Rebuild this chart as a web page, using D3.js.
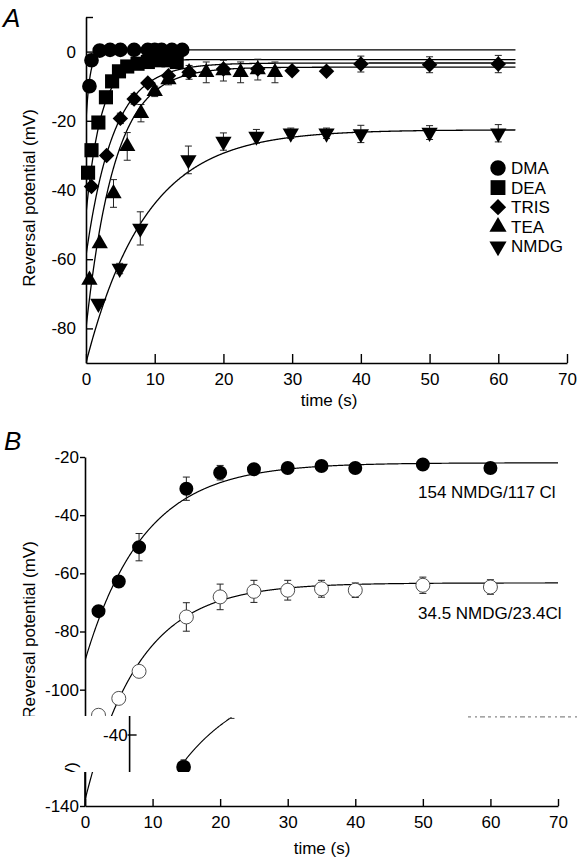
<!DOCTYPE html>
<html><head><meta charset="utf-8">
<script src="https://cdn.jsdelivr.net/npm/d3@7"></script>
<style>
html,body{margin:0;padding:0;background:#fff;}
svg{display:block;font-family:"Liberation Sans", Arial, Helvetica, sans-serif;}
</style></head><body>
<svg id="chart" width="580" height="863"></svg>
<script>
// ---------- Panel A data ----------
const xTicksA = [0,10,20,30,40,50,60,70];
const yTicksA = [-80,-60,-40,-20,0,10];
const yTickLabelsA = ["-80","-60","-40","-20","0",""];
const legendNamesA = ["DMA","DEA","TRIS","TEA","NMDG"];

const dmaTime  = [0.5,0.8,2,3.5,5,7,9,10,11,12.5,14];
const dmaValue = [-10,-2.5,0.3,0.5,0.5,0.5,0.5,0.5,0.5,0.5,0.5];
const dmaErr   = [0,0,0,0,0,0,0,0,0,0,0];

const deaTime  = [0.3,0.8,1.8,2.9,3.8,4.8,6,7.5,9,10.5,12,13.2];
const deaValue = [-35,-28.5,-20.5,-13.2,-8.6,-5.7,-4.3,-3.5,-3,-2.5,-2.5,-3];
const deaErr   = [0,0,0,0,0,0,0,1,1,1,1,1];

const trisTime  = [0.8,3,5,7,9,12,15,20,25,30,35,40,50,60];
const trisValue = [-39,-30,-19.3,-13.7,-9.1,-7,-6,-5,-5,-5.5,-5.7,-3.6,-3.8,-3.6];
const trisErr   = [0,0,1.5,1.5,1,1,1,1,1,1,0.5,2.3,2.3,2.5];

const teaTime  = [0.5,2,4,6,8,10,12,15,17.5,20,22.5,25,27.5];
const teaValue = [-66,-55.5,-41,-27.4,-17.8,-11.5,-8.1,-6,-6,-5.5,-6,-5.2,-6];
const teaErr   = [0,0,4,4,2.5,1.5,1.5,2,3,3,3,3,3];

const nmdgTime  = [1.8,4.9,7.9,14.9,20,24.8,29.8,35,40,50,60];
const nmdgValue = [-72.8,-62.7,-51.1,-31.3,-26,-24.5,-23.6,-23.6,-23.8,-23.4,-23.6];
const nmdgErr   = [0.5,1.5,4.8,4,2.5,2,1.5,1.5,2.5,2,2.5];

// exponential fit parameters (start, plateau, tau) for panel A
const fitStartA   = [-20,-47,-59,-80,-90];
const fitPlateauA = [0.5,-2.3,-3.3,-4.5,-22.6];
const fitTauA     = [0.6,2.2,4,4.2,8.7];
const fitEndA     = 62.5;

// ---------- Panel B data ----------
const xTicksB = [0,10,20,30,40,50,60,70];
const yTicksB = [-140,-120,-100,-80,-60,-40,-20];
const seriesNamesB = ["154 NMDG/117 Cl","34.5 NMDG/23.4Cl"];
const highTime  = [2,5,8,15,20,25,30,35,40,50,60];
const highValue = [-73,-62.8,-51,-30.9,-25.4,-24.2,-23.8,-23.1,-23.8,-22.6,-23.8];
const highErr   = [1,1.5,4.7,4,2.5,1,1.5,1,1,1,1.5];
const lowTime   = [2,5,8,15,20,25,30,35,40,50,60];
const lowValue  = [-108.8,-103,-93.7,-75,-68.1,-66.2,-65.8,-65.3,-65.8,-64.1,-64.7];
const lowErr    = [1,1,1.5,4.9,4.4,3.8,3.4,2.9,2.5,2.8,2.5];
const fitStartB   = [-90,-138];
const fitPlateauB = [-22,-63.3];
const fitTauB     = [8.7,8];
const fitEndB     = 70;

// ---------- scan artifact fragment (pasted strip) ----------
const fragTicks = [-40];
const fragTime = [15], fragValue = [-50], fragErr = [1.5];
const fragFit = {start:-81, plateau:-20, tau:19.7, t0:15, t1:28.3};

// ================= drawing =================
const svg = d3.select("#chart");
const FONT = 17;
const fmt = d => String(d);
const sym = {
  circle: d3.symbol().type(d3.symbolCircle).size(170)(),
  square: d3.symbol().type(d3.symbolSquare).size(200)(),
  diamond: d3.symbol().type(d3.symbolSquare).size(120)(),
  tri: d3.symbol().type(d3.symbolTriangle).size(115)()
};
const symRot = {circle:0, square:0, diamond:45, tri:0, tridown:180};
function symPath(k){ return k==="tridown" ? sym.tri : sym[k]; }

function expFit(start, plateau, tau, t0, t1, step){
  const pts=[]; for(let t=t0;t<=t1+1e-9;t+=step) pts.push([t, plateau+(start-plateau)*Math.exp(-t/tau)]);
  return pts;
}
function styleAxis(g){
  g.attr("font-size",FONT).attr("font-family",'"Liberation Sans", Arial, sans-serif');
  g.selectAll("path.domain").attr("stroke","#000").attr("stroke-width",1.6);
  g.selectAll(".tick line").attr("stroke","#000").attr("stroke-width",1.4);
  g.selectAll(".tick text").attr("fill","#000");
}
function drawSeries(g, x, y, times, vals, errs, kind, fill, scale){
  const d = times.map((t,i)=>({t, v:vals[i], e:errs[i]}));
  const eb = g.append("g").attr("stroke","#222").attr("stroke-width",1);
  d.filter(p=>p.e>0).forEach(p=>{
    eb.append("line").attr("x1",x(p.t)).attr("x2",x(p.t)).attr("y1",y(p.v-p.e)).attr("y2",y(p.v+p.e));
    [p.v-p.e,p.v+p.e].forEach(vv=>eb.append("line").attr("x1",x(p.t)-3.5).attr("x2",x(p.t)+3.5).attr("y1",y(vv)).attr("y2",y(vv)));
  });
  g.append("g").selectAll("path").data(d).join("path")
    .attr("d", symPath(kind))
    .attr("transform", p=>`translate(${x(p.t)},${y(p.v)}) rotate(${symRot[kind]}) scale(${scale||1})`)
    .attr("fill", fill||"#000")
    .attr("stroke", fill==="#fff" ? "#444" : "none")
    .attr("stroke-width", 1);
}

// ---------- Panel A ----------
const xA = d3.scaleLinear().domain([0,70]).range([86,567]);
const yA = d3.scaleLinear().domain([-90,10]).range([363,17]);
const gA = svg.append("g");
svg.append("clipPath").attr("id","clipA").append("rect").attr("x",86).attr("y",17).attr("width",481).attr("height",346);

const lineA = d3.line().x(d=>xA(d[0])).y(d=>yA(d[1]));
const curvesA = gA.append("g").attr("clip-path","url(#clipA)");
fitStartA.forEach((s,i)=>{
  curvesA.append("path").attr("d", lineA(expFit(s, fitPlateauA[i], fitTauA[i], 0, fitEndA, 0.05)))
    .attr("fill","none").attr("stroke","#000").attr("stroke-width",1.3);
});
drawSeries(gA,xA,yA,nmdgTime,nmdgValue,nmdgErr,"tridown");
drawSeries(gA,xA,yA,teaTime,teaValue,teaErr,"tri");
drawSeries(gA,xA,yA,trisTime,trisValue,trisErr,"diamond");
drawSeries(gA,xA,yA,deaTime,deaValue,deaErr,"square");
drawSeries(gA,xA,yA,dmaTime,dmaValue,dmaErr,"circle");

const axXA = gA.append("g").attr("transform","translate(0,363)")
  .call(d3.axisBottom(xA).tickValues(xTicksA).tickSizeInner(-9).tickSizeOuter(0).tickPadding(9.5).tickFormat(fmt));
styleAxis(axXA);
const axYA = gA.append("g").attr("transform","translate(86,0)")
  .call(d3.axisLeft(yA).tickValues(yTicksA).tickSizeInner(-7).tickSizeOuter(0).tickPadding(10)
  .tickFormat(d=>yTickLabelsA[yTicksA.indexOf(d)]));
styleAxis(axYA);

gA.append("text").attr("x",329).attr("y",406).attr("text-anchor","middle").attr("font-size",FONT).text("time (s)");
gA.append("text").attr("transform","translate(35,198) rotate(-90)").attr("text-anchor","middle").attr("font-size",FONT).text("Reversal potential (mV)");
gA.append("text").attr("x",3).attr("y",27).attr("font-size",26).attr("font-style","italic").text("A");

// legend
const legKinds = ["circle","square","diamond","tri","tridown"];
const legend = gA.append("g");
legendNamesA.forEach((n,i)=>{
  const yy = 168 + i*19.6;
  legend.append("path").attr("d", symPath(legKinds[i])).attr("transform",`translate(498,${yy}) rotate(${symRot[legKinds[i]]}) scale(1.05)`).attr("fill","#000");
  legend.append("text").attr("x",511).attr("y",yy+6).attr("font-size",FONT).text(n);
});

// ---------- Panel B ----------
const xB = d3.scaleLinear().domain([0,70]).range([85,558]);
const yB = d3.scaleLinear().domain([-140,-20]).range([806,457]);
const gB = svg.append("g");
svg.append("clipPath").attr("id","clipB").append("rect").attr("x",85).attr("y",440).attr("width",480).attr("height",366);
const lineB = d3.line().x(d=>xB(d[0])).y(d=>yB(d[1]));
const curvesB = gB.append("g").attr("clip-path","url(#clipB)");
fitStartB.forEach((s,i)=>{
  curvesB.append("path").attr("d", lineB(expFit(s, fitPlateauB[i], fitTauB[i], 0, fitEndB, 0.05)))
    .attr("fill","none").attr("stroke","#000").attr("stroke-width",1.2);
});
drawSeries(gB,xB,yB,highTime,highValue,highErr,"circle",null,0.95);
drawSeries(gB,xB,yB,lowTime,lowValue,lowErr,"circle","#fff",0.95);

gB.append("text").attr("x",418).attr("y",498).attr("font-size",FONT).text(seriesNamesB[0]);
gB.append("text").attr("x",418).attr("y",619).attr("font-size",FONT).text(seriesNamesB[1]);
gB.append("text").attr("transform","translate(35,630) rotate(-90)").attr("text-anchor","middle").attr("font-size",FONT).text("Reversal potential (mV)");
gB.append("text").attr("x",4).attr("y",450).attr("font-size",26).attr("font-style","italic").text("B");

const axYB = gB.append("g").attr("transform","translate(85,0)")
  .call(d3.axisLeft(yB).tickValues(yTicksB).tickSizeInner(5).tickSizeOuter(0).tickPadding(1).tickFormat(fmt));
styleAxis(axYB);

// pasted strip artifact (covers part of panel B)
const stripTop = 716, stripBot = 772;
svg.append("rect").attr("x",0).attr("y",stripTop).attr("width",580).attr("height",stripBot-stripTop).attr("fill","#fff");
svg.append("clipPath").attr("id","clipStrip").append("rect").attr("x",0).attr("y",stripTop).attr("width",580).attr("height",stripBot-stripTop);
const gF = svg.append("g").attr("clip-path","url(#clipStrip)");
const fx = d3.scaleLinear().domain([0,70]).range([129.6,381.6]);
const fy = d3.scaleLinear().domain([-40,-50]).range([735,767]);
gF.append("line").attr("x1",fx(0)).attr("x2",fx(0)).attr("y1",stripTop).attr("y2",stripBot).attr("stroke","#000").attr("stroke-width",1.6);
fragTicks.forEach(v=>{
  gF.append("line").attr("x1",fx(0)-2).attr("x2",fx(0)+7).attr("y1",fy(v)).attr("y2",fy(v)).attr("stroke","#000").attr("stroke-width",1.4);
  gF.append("text").attr("x",fx(0)-2).attr("y",fy(v)+6).attr("text-anchor","end").attr("font-size",FONT).text(fmt(v));
});
gF.append("path").attr("d", d3.line().x(d=>fx(d[0])).y(d=>fy(d[1]))(
    expFit(fragFit.start,fragFit.plateau,fragFit.tau,0,fragFit.t1,0.1).filter(p=>p[0]>=fragFit.t0)))
  .attr("fill","none").attr("stroke","#000").attr("stroke-width",1.1);
const fEnd = fragFit.plateau+(fragFit.start-fragFit.plateau)*Math.exp(-fragFit.t1/fragFit.tau);
gF.append("line").attr("x1",fx(fragFit.t1)-3).attr("x2",fx(fragFit.t1)+3).attr("y1",fy(fEnd)+1).attr("y2",fy(fEnd)+1).attr("stroke","#333");
drawSeries(gF,fx,fy,fragTime,fragValue,[0],"circle");
gF.append("line").attr("x1",fx(15)-3).attr("x2",fx(15)+3).attr("y1",fy(fragValue[0]+fragErr[0]*1.5)).attr("y2",fy(fragValue[0]+fragErr[0]*1.5)).attr("stroke","#333");
gF.append("text").attr("transform","translate(77,762) rotate(-90)").attr("text-anchor","end").attr("font-size",FONT).text("(mV)");
// faint tops of erased glyphs on the right of the strip
svg.append("line").attr("x1",468).attr("x2",580).attr("y1",716.8).attr("y2",716.8)
  .attr("stroke","#888").attr("stroke-width",1.2).attr("stroke-dasharray","3,4,2,3,5,3");

// x axis of B drawn on top
const axXB = gB.append("g").attr("transform","translate(0,806)")
  .call(d3.axisBottom(xB).tickValues(xTicksB).tickSizeInner(-7).tickSizeOuter(0).tickPadding(9.7).tickFormat(fmt));
styleAxis(axXB);
svg.node().appendChild(axXB.node());
svg.append("line").attr("x1",85).attr("x2",85).attr("y1",stripBot).attr("y2",806).attr("stroke","#000").attr("stroke-width",1.6);
svg.append("text").attr("x",322).attr("y",854).attr("text-anchor","middle").attr("font-size",FONT).text("time (s)");
</script>
</body></html>
